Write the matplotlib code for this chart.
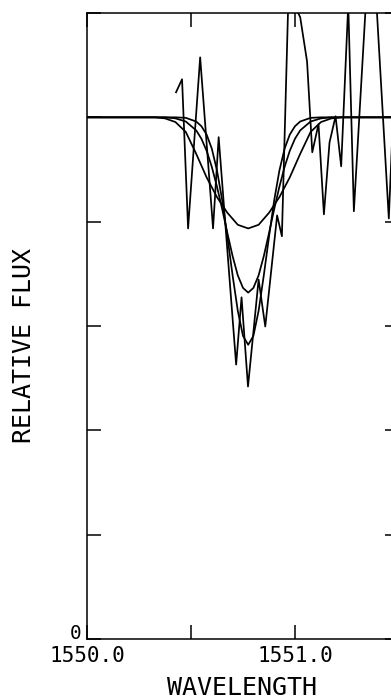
import matplotlib
matplotlib.use("Agg")
import matplotlib.pyplot as plt

# observed spectrum (noisy), wavelength in Angstrom, relative flux
obs_wave = [1550.428, 1550.457, 1550.486, 1550.544, 1550.606, 1550.633,
            1550.717, 1550.743, 1550.774, 1550.825, 1550.857, 1550.914,
            1550.937, 1550.968, 1550.997, 1551.025, 1551.058, 1551.083,
            1551.113, 1551.139, 1551.166, 1551.195, 1551.222, 1551.256,
            1551.283, 1551.353, 1551.382, 1551.451, 1551.485]
obs_flux = [1.048, 1.073, 0.787, 1.115, 0.787, 0.962,
            0.526, 0.655, 0.484, 0.689, 0.599, 0.812,
            0.772, 1.226, 1.215, 1.192, 1.107, 0.933,
            0.987, 0.814, 0.952, 1.002, 0.906, 1.217,
            0.820, 1.303, 1.284, 0.806, 1.130]

# broad, shallow model profile
wide_wave = [1550.0, 1550.325, 1550.375, 1550.425, 1550.475, 1550.525,
             1550.575, 1550.625, 1550.675, 1550.725, 1550.775, 1550.825,
             1550.875, 1550.925, 1550.975, 1551.025, 1551.075, 1551.125,
             1551.175, 1551.225, 1551.5]
wide_flux = [1.0, 1.0, 0.998, 0.991, 0.972, 0.930,
             0.885, 0.847, 0.817, 0.794, 0.787, 0.794,
             0.817, 0.847, 0.885, 0.930, 0.972, 0.991,
             0.998, 1.0, 1.0]

# medium and narrow model profiles share one wavelength grid
model_wave = [1550.0, 1550.375, 1550.425, 1550.475, 1550.525, 1550.55,
              1550.575, 1550.6, 1550.625, 1550.65, 1550.675, 1550.7,
              1550.725, 1550.75, 1550.775, 1550.8, 1550.825, 1550.85,
              1550.875, 1550.9, 1550.925, 1550.95, 1550.975, 1551.0,
              1551.025, 1551.075, 1551.125, 1551.175, 1551.5]
mid_flux = [1.0, 1.0, 0.998, 0.992, 0.975, 0.959,
            0.936, 0.905, 0.867, 0.824, 0.778, 0.734,
            0.697, 0.673, 0.664, 0.673, 0.697, 0.734,
            0.778, 0.824, 0.867, 0.905, 0.936, 0.959,
            0.975, 0.992, 0.998, 1.0, 1.0]
narrow_flux = [1.0, 1.0, 1.0, 0.999, 0.992, 0.983,
               0.967, 0.940, 0.898, 0.841, 0.771, 0.697,
               0.629, 0.581, 0.564, 0.581, 0.629, 0.697,
               0.771, 0.841, 0.898, 0.940, 0.967, 0.983,
               0.992, 0.999, 1.0, 1.0, 1.0]

x_ticks = [1550.0, 1550.5, 1551.0, 1551.5]
x_labels = ["1550.0", "", "1551.0", ""]
y_ticks = [0.0, 0.2, 0.4, 0.6, 0.8, 1.0, 1.2]
y_labels = ["0", "", "", "", "", "", ""]

W, H = 391, 699
fig = plt.figure(figsize=(W / 100, H / 100), dpi=100)
# right spine sits just outside the picture, as in the scan
ax = fig.add_axes([87 / W, 60 / H, 312 / W, 626 / H])

lw = 1.25
ax.plot(wide_wave, wide_flux, color="black", lw=lw)
ax.plot(model_wave, mid_flux, color="black", lw=lw)
ax.plot(model_wave, narrow_flux, color="black", lw=lw)
ax.plot(obs_wave, obs_flux, color="black", lw=lw)

ax.set_xlim(1550.0, 1551.5)
ax.set_ylim(0.0, 1.2)

mono = "DejaVu Sans Mono"
ax.set_xticks(x_ticks)
ax.set_xticklabels(x_labels, family=mono, fontsize=15)
ax.set_yticks(y_ticks)
ax.set_yticklabels(y_labels, family=mono, fontsize=14)
for lab in ax.get_yticklabels():
    lab.set_va("baseline")

ax.tick_params(direction="in", length=10, width=1.1, top=True, right=True,
               color="black")
ax.tick_params(axis="x", pad=5)
ax.tick_params(axis="y", pad=4)
for sp in ax.spines.values():
    sp.set_linewidth(1.1)

fig.text(242 / W, 4 / H, "WAVELENGTH", family=mono, fontsize=18,
         ha="center", va="baseline")
fig.text(24 / W, 1 - 346 / H, "RELATIVE FLUX", family=mono, fontsize=18,
         rotation=90, ha="center", va="center")

fig.savefig("out.png", dpi=100)
